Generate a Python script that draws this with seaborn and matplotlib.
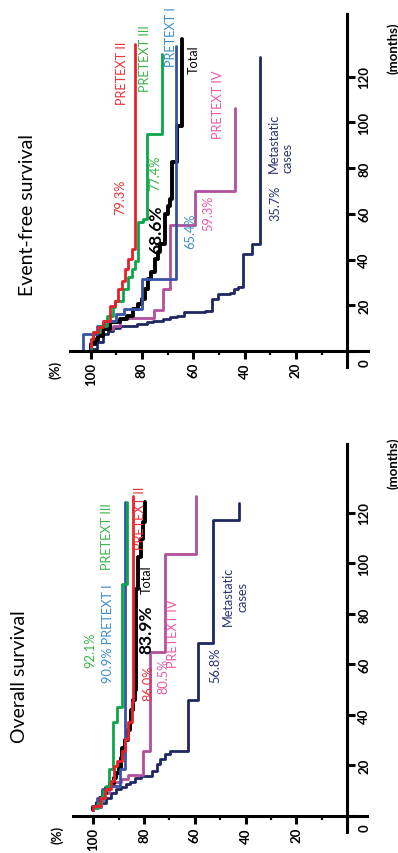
import matplotlib
matplotlib.use("Agg")
import matplotlib.pyplot as plt
import numpy as np
import pandas as pd
import seaborn as sns
from matplotlib.transforms import ScaledTranslation

sns.set_theme(style="ticks")
plt.rcParams["font.family"] = ["Lato", "DejaVu Sans"]

# ---------------- Overall survival (months, %) ----------------
os_total_t = [2.5, 3.5, 5, 7, 9, 11, 13, 15, 17, 19, 23, 27, 30, 34, 37, 42, 46, 50, 90, 102.4, 109.7, 116.3, 124.3]
os_total_s = [100, 98.5, 97.5, 96, 95, 93.5, 92, 91, 90, 89, 88.5, 87.5, 86.5, 85.5, 85, 84.2, 83.6, 83.0, 82.3, 81.3, 80.5, 79.6, 79.6]
os_p1_t = [2.5, 4, 7, 10.7, 12, 18.6, 124.3]
os_p1_s = [100, 98.5, 96.5, 93.5, 89.5, 87.5, 87.5]
os_p2_t = [2.5, 4, 7, 10.7, 14, 19.9, 21.9, 25.9, 30.5, 37.1, 45, 126.9]
os_p2_s = [100, 97.5, 95.5, 93.1, 92, 90.8, 88.8, 87.5, 86.2, 84.9, 84.2, 84.2]
os_p3_t = [2.5, 3, 5, 7.5, 10, 12, 18.6, 37.1, 43, 91.9, 124.3]
os_p3_s = [100, 98, 97, 96, 95, 94, 92.1, 90.8, 88.8, 86.8, 86.8]
os_p4_t = [2.5, 3.5, 6, 9, 12, 13.5, 14.5, 16.2, 25.9, 64.8, 103.8, 126.9]
os_p4_s = [100, 97, 96, 94, 92, 89, 86.2, 80.3, 77.6, 71.7, 59.5, 59.5]
os_met_t = [2.5, 3.4, 5, 7, 9, 10.5, 11.5, 12.5, 13.5, 15, 16, 18, 20.6, 22.6, 24.5, 25.7, 46.1, 68.5, 117.3, 123.9]
os_met_s = [100, 97, 95, 93, 91, 89, 87, 85.5, 83.5, 81, 77, 75, 73.7, 71.7, 69.8, 62.5, 58.6, 52.7, 42.4, 42.4]

# ---------------- Event-free survival ----------------
efs_total_t = [1, 3, 5, 6.6, 9.6, 12.5, 14, 15.5, 18.4, 20.6, 22.7, 27.1, 31.5, 34.4, 40.2, 43.1, 46.8, 59.9, 63.5, 66.5, 82.5, 98.5, 136.4]
efs_total_s = [100, 98.5, 97, 95.1, 92.5, 88.6, 86, 83.4, 81.4, 80.1, 78.8, 77.6, 76.3, 75, 73.7, 73, 71.2, 69.7, 69.1, 68.4, 66.5, 64.5, 64.5]
efs_p1_t = [1, 7.4, 11, 13, 16, 18.4, 31.5, 133.5]
efs_p1_s = [103, 97.7, 95, 90, 87, 80.1, 66.7, 66.7]
efs_p2_t = [1.6, 5.2, 8.1, 10.3, 13.2, 19.8, 22, 27.1, 30.7, 35.8, 40.2, 44.6, 134.2]
efs_p2_s = [100, 99, 97, 95.1, 92.5, 90.5, 89.2, 87.9, 86.6, 85.3, 84, 82.7, 82.7]
efs_p3_t = [1, 5.2, 8.1, 11.1, 15.5, 19.1, 22, 27.1, 32.2, 35.8, 39.4, 56.3, 57.7, 94.9, 129.9]
efs_p3_s = [100, 99, 96.4, 93.8, 91.2, 90.5, 87.3, 85.3, 84, 82.7, 81.4, 79.5, 77.9, 72.2, 72.2]
efs_p4_t = [1, 3, 5.5, 8, 9.6, 11, 14.5, 18, 27.1, 55, 70.1, 106.1]
efs_p4_s = [100, 99, 97.5, 96.4, 91.2, 88.6, 75.5, 72, 69.1, 59.3, 43.7, 43.7]
efs_met_t = [0.5, 0.9, 3.8, 7.4, 8.9, 9.9, 10.8, 11.8, 12.5, 13.3, 14, 14.7, 15.4, 16.9, 17.5, 22.7, 24.9, 25.5, 27.1, 27.8, 42.4, 46.8, 128.4]
efs_met_s = [100, 97.7, 95.1, 93.1, 91.2, 88.6, 82.1, 78.2, 75.6, 71.7, 69.1, 66.5, 63.5, 55.4, 52.8, 50.3, 45.7, 44, 42.4, 40.5, 37.2, 34.0, 34.0]

surv_ticks = [0, 20, 40, 60, 80, 100]
surv_labels = ["", "20", "40", "60", "80", "100"]
surv_minor = [10, 30, 50, 70, 90]
time_ticks = [0, 20, 40, 60, 80, 100, 120]
time_labels = ["0", "20", "40", "60", "80", "100", "120"]

C_RED, C_GREEN, C_BLUE = "#E8202A", "#0AA64B", "#3853A4"
C_PURPLE, C_NAVY, C_BLACK = "#B1509D", "#1E2761", "#000000"
T_RED, T_GREEN, T_BLUE, T_PINK, T_NAVY = "#EE3338", "#3CB44B", "#3C8DCB", "#EC5BA4", "#2C3470"

fig = plt.figure(figsize=(3.98, 8.54), dpi=100)
ax_os = fig.add_axes([0.1706, 0.01967, 0.7651, 0.4672])
ax_efs = fig.add_axes([0.16344, 0.5664, 0.77337, 0.42313])


def curve(ax, t, s, color, lw=2.0):
    df = pd.DataFrame({"t": t, "s": s})
    sns.lineplot(data=df, x="s", y="t", sort=False, estimator=None, orient="y",
                 color=color, linewidth=lw, drawstyle="steps-pre", ax=ax)


def style(ax, sbounds, tbounds):
    ax.set_xlim(110, -10)
    ax.set_ylim(-8, 150)
    ax.patch.set_alpha(0)
    for sp in ["top", "left"]:
        ax.spines[sp].set_visible(False)
    ax.spines["bottom"].set_position(("data", 0))
    ax.spines["right"].set_position(("data", 0))
    ax.spines["bottom"].set_bounds(*sbounds)
    ax.spines["right"].set_bounds(*tbounds)
    for sp in ["bottom", "right"]:
        ax.spines[sp].set_linewidth(2.2)
        ax.spines[sp].set_color("black")
    ax.yaxis.tick_right()
    ax.set_xticks(surv_ticks)
    ax.set_xticklabels(surv_labels, rotation=90, fontweight="bold", fontsize=9.5)
    ax.set_xticks(surv_minor, minor=True)
    ax.set_yticks(time_ticks)
    ax.set_yticklabels(time_labels, rotation=90, fontweight="bold", fontsize=9.5, va="center")
    ax.tick_params(axis="x", which="major", length=6, width=2.2, direction="out", pad=2, colors="black")
    ax.tick_params(axis="x", which="minor", length=3, width=1.6, direction="out", color="black")
    ax.tick_params(axis="y", which="major", length=6, width=2.2, direction="out", pad=2, colors="black")
    ax.set_xlabel("")
    ax.set_ylabel("")
    lab0 = ax.get_yticklabels()[0]
    lab0.set_transform(lab0.get_transform() + ScaledTranslation(0, -0.11, fig.dpi_scale_trans))


def note(ax, s, t, text, color, size=9.2, weight="normal", ma="center"):
    ax.text(s, t, text, color=color, fontsize=size, fontweight=weight, rotation=90,
            ha="center", va="center", multialignment=ma)


# Overall survival panel
curve(ax_os, os_met_t, os_met_s, C_NAVY)
curve(ax_os, os_p4_t, os_p4_s, C_PURPLE)
curve(ax_os, os_total_t, os_total_s, C_BLACK, 2.8)
curve(ax_os, os_p1_t, os_p1_s, C_BLUE)
curve(ax_os, os_p3_t, os_p3_s, C_GREEN)
curve(ax_os, os_p2_t, os_p2_s, C_RED)
style(ax_os, (-8, 108), (-6.3, 147.3))

note(ax_os, 101.3, 66.1, "92.1%", T_GREEN)
note(ax_os, 94.7, 111, "PRETEXT III", T_GREEN)
note(ax_os, 94.1, 72.7, "90.9% PRETEXT I", T_BLUE)
note(ax_os, 78.3, 52.9, "86.0%", T_RED)
note(ax_os, 81.6, 118.3, "PRETEXT II", T_RED)
note(ax_os, 79.0, 93.9, "Total", C_BLACK)
note(ax_os, 79.0, 74.1, "83.9%", C_BLACK, size=12.5, weight="bold")
note(ax_os, 68.4, 72.7, "PRETEXT IV", T_PINK)
note(ax_os, 72.4, 55.6, "80.5%", T_PINK)
note(ax_os, 44.1, 87.2, "Metastatic\ncases", T_NAVY)
note(ax_os, 52.0, 60.2, "56.8%", T_NAVY)

# Event-free survival panel
curve(ax_efs, efs_met_t, efs_met_s, C_NAVY)
curve(ax_efs, efs_p4_t, efs_p4_s, C_PURPLE)
curve(ax_efs, efs_total_t, efs_total_s, C_BLACK, 2.8)
curve(ax_efs, efs_p1_t, efs_p1_s, C_BLUE)
curve(ax_efs, efs_p3_t, efs_p3_s, C_GREEN)
curve(ax_efs, efs_p2_t, efs_p2_s, C_RED)
style(ax_efs, (-8, 108), (-7, 147.4))

note(ax_efs, 87.9, 121.9, "PRETEXT II", T_RED)
note(ax_efs, 88.6, 67.6, "79.3%", T_RED)
note(ax_efs, 78.8, 128.4, "PRETEXT III", T_GREEN)
note(ax_efs, 74.9, 78.1, "77.4%", T_GREEN)
note(ax_efs, 68.8, 137.9, "PRETEXT I", T_BLUE)
note(ax_efs, 60.0, 127.7, "Total", C_BLACK)
note(ax_efs, 74.3, 53.3, "68.6%", C_BLACK, size=12.5, weight="bold")
note(ax_efs, 61.3, 52.6, "65.4%", T_BLUE)
note(ax_efs, 54.2, 60.6, "59.3%", T_PINK)
note(ax_efs, 50.3, 108, "PRETEXT IV", T_PINK)
note(ax_efs, 28.1, 65.0, "35.7%", T_NAVY)
note(ax_efs, 25.9, 91.3, "Metastatic\ncases", T_NAVY, ma="left")

# titles and axis labels (figure pixel coords -> fractions)
W, H = 398.0, 854.0


def ftext(x, y, text, **kw):
    fig.text(x / W, 1 - y / H, text, rotation=90, ha="center", va="center", **kw)


ftext(20, 677, "Overall survival", fontsize=14, color="black")
ftext(28, 215, "Event-free survival", fontsize=14, color="black")
ftext(57, 835, "(%)", fontsize=9.5, fontweight="bold", color="black")
ftext(55, 370, "(%)", fontsize=9.5, fontweight="bold", color="black")
ftext(393, 463, "(months)", fontsize=9.5, fontweight="bold", color="black")
ftext(393, 48, "(months)", fontsize=9.5, fontweight="bold", color="black")

fig.savefig("out.png", dpi=100)
